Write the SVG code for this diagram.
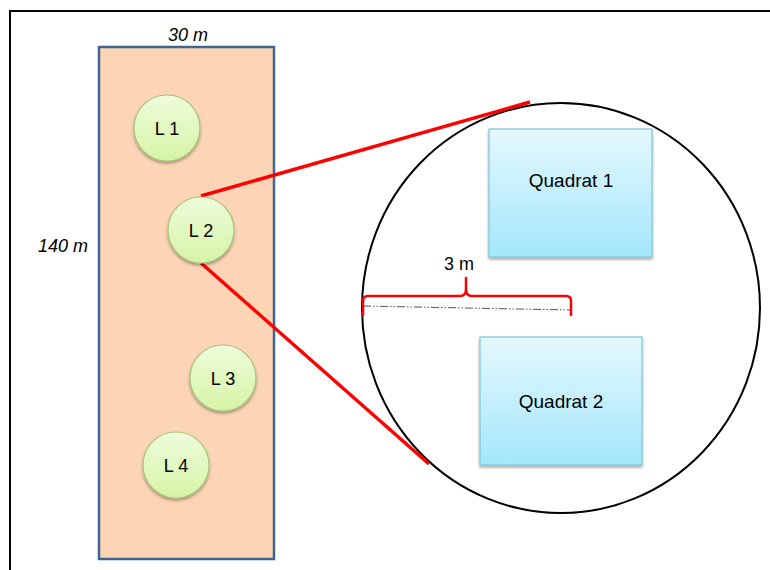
<svg xmlns="http://www.w3.org/2000/svg" width="770" height="570" viewBox="0 0 770 570">
  <style>
    .lbl { font-family: "Liberation Sans", Arial, sans-serif; font-size: 18px; fill: #000; text-anchor: middle; }
    .dim { font-style: italic; }
    .site { fill: url(#siteFill); stroke: #a9c57c; stroke-width: 1.2; filter: url(#shadow); }
    .quad { fill: url(#quadFill); stroke: #7cc6dc; stroke-width: 1.2; filter: url(#shadow); }
    .zoomline { stroke: #ff0000; stroke-width: 3.5; fill: none; stroke-linecap: butt; }
  </style>
  <defs>
    <linearGradient id="siteFill" x1="0" y1="0" x2="0" y2="1">
      <stop offset="0" stop-color="#eefcdc"/>
      <stop offset="1" stop-color="#d5f4a6"/>
    </linearGradient>
    <linearGradient id="quadFill" x1="0" y1="0" x2="0" y2="1">
      <stop offset="0" stop-color="#e4f8fe"/>
      <stop offset="1" stop-color="#a4e7fb"/>
    </linearGradient>
    <filter id="shadow" x="-20%" y="-20%" width="140%" height="150%">
      <feGaussianBlur in="SourceAlpha" stdDeviation="1.5"/>
      <feOffset dx="0" dy="2" result="b"/>
      <feComponentTransfer><feFuncA type="linear" slope="0.35"/></feComponentTransfer>
      <feMerge><feMergeNode/><feMergeNode in="SourceGraphic"/></feMerge>
    </filter>
  </defs>

  <rect width="770" height="570" fill="#ffffff"/>
  <!-- outer frame -->
  <path d="M10,570 V11 H770" fill="none" stroke="#000" stroke-width="2"/>

  <!-- plot strip -->
  <g id="plot">
    <rect x="99" y="47" width="175" height="512" fill="#fbd5b5" stroke="#41638f" stroke-width="2.5"/>
    <text class="lbl dim" x="188" y="41">30 m</text>
    <text class="lbl dim" x="63" y="252">140 m</text>
  </g>

  <!-- magnified view -->
  <g id="zoom-view">
    <ellipse cx="561" cy="308" rx="199" ry="205" fill="#ffffff" stroke="#000" stroke-width="2"/>
  </g>

  <g id="connectors">
    <line class="zoomline" x1="201" y1="196" x2="530" y2="102"/>
    <line class="zoomline" x1="201" y1="263" x2="429" y2="464"/>
  </g>

  <g id="L1"><circle class="site" cx="167" cy="128" r="33"/><text class="lbl" x="167" y="135">L 1</text></g>
  <g id="L2"><circle class="site" cx="201" cy="230" r="33"/><text class="lbl" x="201" y="237">L 2</text></g>
  <g id="L3"><circle class="site" cx="223" cy="378" r="33"/><text class="lbl" x="223" y="385">L 3</text></g>
  <g id="L4"><circle class="site" cx="176" cy="465" r="33"/><text class="lbl" x="176" y="472">L 4</text></g>

  <g id="quadrat1">
    <rect class="quad" x="489" y="129" width="163" height="128"/>
    <text class="lbl" x="571" y="187" style="font-size:19px">Quadrat 1</text>
  </g>
  <g id="quadrat2">
    <rect class="quad" x="480" y="337" width="162" height="128"/>
    <text class="lbl" x="561" y="408" style="font-size:19px">Quadrat 2</text>
  </g>

  <!-- 3 m spacing measure -->
  <g id="spacing">
    <line x1="363" y1="306" x2="570" y2="310" stroke="#555" stroke-width="1" stroke-dasharray="8,2,1.5,2,1.5,2"/>
    <path d="M363,316 V301 Q363,296 368,296 H460 Q466,296 466,289 V278 V289 Q466,296 472,296 H566 Q571,296 571,301 V316" fill="none" stroke="#ff0000" stroke-width="2.5" stroke-linejoin="round"/>
    <text class="lbl" x="459" y="270">3 m</text>
  </g>
</svg>
